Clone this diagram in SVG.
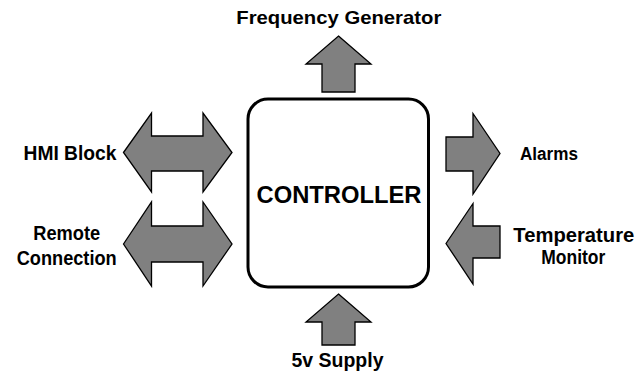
<svg xmlns="http://www.w3.org/2000/svg" width="637" height="374" viewBox="0 0 637 374">
  <style>
    .bg { fill: #ffffff; }
    .box { fill: #ffffff; stroke: #000000; stroke-width: 3; }
    .arrow { fill: #808080; stroke: #000000; stroke-width: 1.3; stroke-linejoin: miter; }
    .label { font-family: "Liberation Sans", Arial, sans-serif; font-weight: bold; fill: #000000; text-anchor: middle; }
  </style>
  <rect class="bg" x="0" y="0" width="637" height="374"/>

  <!-- central block -->
  <g id="controller">
    <rect class="box" x="248" y="99" width="180.5" height="188" rx="20" ry="20"/>
    <text class="label" x="339" y="203" font-size="24.5" textLength="165" lengthAdjust="spacingAndGlyphs">CONTROLLER</text>
  </g>

  <!-- signal arrows between the blocks -->
  <g id="connectors">
    <polygon id="arrow-hmi" class="arrow" points="123.5,152.5 151.5,113 151.5,136 203,136 203,113 232,152.5 203,192 203,171 151.5,171 151.5,192"/>
    <polygon id="arrow-remote" class="arrow" points="123.5,244 151.5,202 151.5,226 203,226 203,202 232,244 203,286 203,262 151.5,262 151.5,286"/>
    <polygon id="arrow-frequency" class="arrow" points="338.5,36 371,64 355,64 355,92 322,92 322,64 306,64"/>
    <polygon id="arrow-supply" class="arrow" points="338.5,294 371,322 355,322 355,345 322,345 322,322 306,322"/>
    <polygon id="arrow-alarms" class="arrow" points="446,137 473,137 473,113.5 500,153.5 473,194 473,171 446,171"/>
    <polygon id="arrow-temperature" class="arrow" points="446,243.5 473,203.5 473,226 500,226 500,258 473,258 473,284"/>
  </g>

  <g id="frequency-generator">
    <text class="label" x="338.8" y="24" font-size="19" textLength="205" lengthAdjust="spacingAndGlyphs">Frequency Generator</text>
  </g>

  <g id="hmi-block">
    <text class="label" x="70" y="160" font-size="19.5" textLength="93" lengthAdjust="spacingAndGlyphs">HMI Block</text>
  </g>

  <g id="remote-connection">
    <text class="label" x="66.7" y="239.5" font-size="20" textLength="67" lengthAdjust="spacingAndGlyphs">Remote</text>
    <text class="label" x="66.7" y="264.5" font-size="20" textLength="100" lengthAdjust="spacingAndGlyphs">Connection</text>
  </g>

  <g id="alarms">
    <text class="label" x="549" y="160" font-size="17.5" textLength="58" lengthAdjust="spacingAndGlyphs">Alarms</text>
  </g>

  <g id="temperature-monitor">
    <text class="label" x="573.8" y="241.5" font-size="20" textLength="121" lengthAdjust="spacingAndGlyphs">Temperature</text>
    <text class="label" x="573.3" y="264" font-size="20" textLength="64" lengthAdjust="spacingAndGlyphs">Monitor</text>
  </g>

  <g id="supply">
    <text class="label" x="337.5" y="366.5" font-size="19.5" textLength="92" lengthAdjust="spacingAndGlyphs">5v Supply</text>
  </g>
</svg>
